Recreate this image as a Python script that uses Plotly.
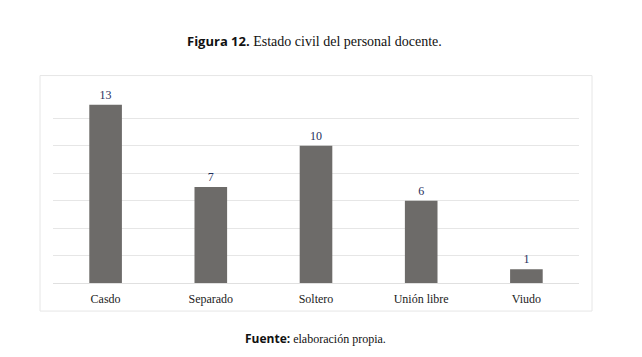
import plotly.graph_objects as go

categories = ["Casdo", "Separado", "Soltero", "Unión libre", "Viudo"]
values = [13, 7, 10, 6, 1]
y_ticks = [0, 2, 4, 6, 8, 10, 12, 14]

OFF = 8  # page body margin
W, H = 642 - 2 * OFF, 357 - 2 * OFF
L, R, T, B = 53 - OFF, 579 - OFF, 91.4 - OFF, 283 - OFF
def px(x): return (x - OFF - L) / (R - L)
def py(y): return (B - (y - OFF)) / (B - T)

serif = "Liberation Serif, DejaVu Serif, serif"
sans = "Open Sans, Noto Sans, sans-serif"

fig = go.Figure(go.Bar(
    x=categories, y=values, width=0.31,
    marker=dict(color="#6d6b69", line=dict(width=0)),
    text=[str(v) for v in values], textposition="outside",
    textfont=dict(family=serif, size=12, color="#1f2f5c"),
    cliponaxis=False,
))

fig.update_layout(
    width=W, height=H,
    margin=dict(l=L, r=W - R, t=T, b=H - B, pad=0),
    paper_bgcolor="white", plot_bgcolor="white",
    showlegend=False,
    xaxis=dict(showgrid=False, showline=False, zeroline=False,
               ticks="outside", ticklen=5, tickcolor="rgba(0,0,0,0)",
               tickfont=dict(family=serif, size=12, color="#222")),
    yaxis=dict(range=[0, 14], tickvals=y_ticks, showticklabels=False,
               showgrid=True, gridcolor="#e6e6e6", gridwidth=1,
               zeroline=True, zerolinecolor="#e0e0e0", zerolinewidth=1,
               showline=False),
    shapes=[dict(type="rect", xref="paper", yref="paper",
                 x0=px(40), x1=px(592), y0=py(311), y1=py(76),
                 line=dict(color="#e6e6e6", width=1), layer="below")],
    annotations=[
        dict(xref="paper", yref="paper", x=px(314), y=py(42), showarrow=False,
             xanchor="center", yanchor="middle",
             text=f"<b><span style='font-family:{sans};font-size:13px'>Figura 12.</span></b> Estado civil del personal docente.",
             font=dict(family=serif, size=14, color="#111")),
        dict(xref="paper", yref="paper", x=px(315), y=py(338), showarrow=False,
             xanchor="center", yanchor="middle",
             text=f"<b><span style='font-family:{sans}'>Fuente:</span></b> elaboración propia.",
             font=dict(family=serif, size=12, color="#111")),
    ],
)

fig.write_html("out.html")
